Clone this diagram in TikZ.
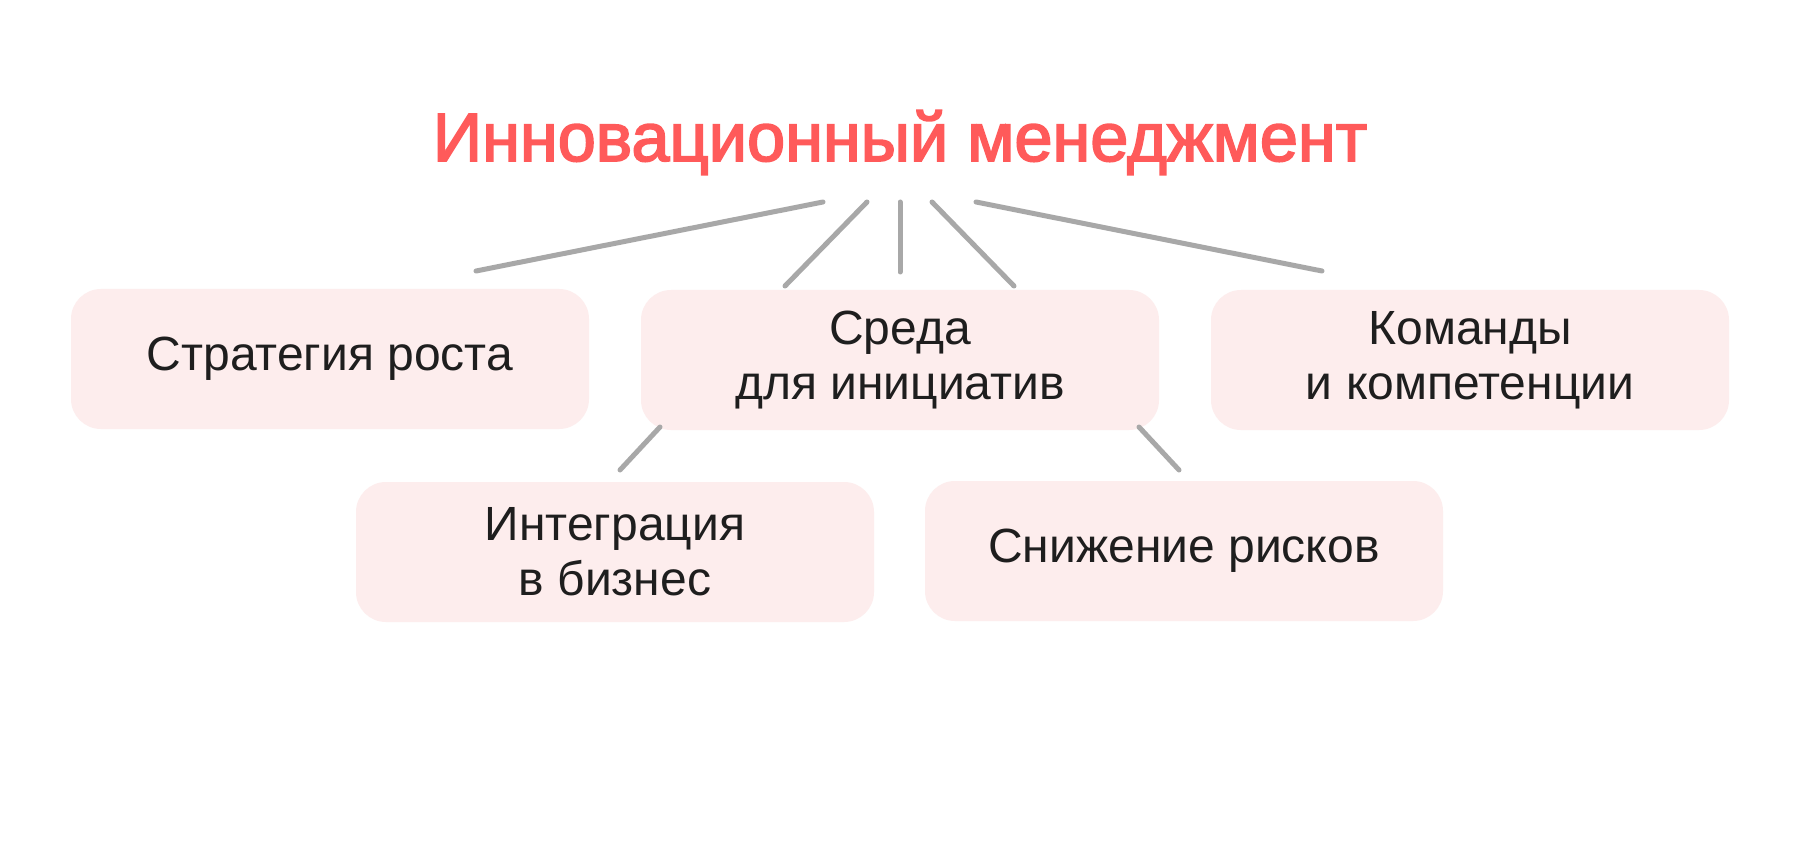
\documentclass[tikz,border=0pt]{standalone}
\usepackage{fontspec}
\setmainfont{Liberation Sans}
\newfontfamily\titlefont[FakeBold=2.5]{Liberation Sans}
\definecolor{titlered}{HTML}{FF5A5A}
\definecolor{boxfill}{HTML}{FDEDED}
\definecolor{linegray}{HTML}{A8A8A8}
\definecolor{textdark}{HTML}{1E1E1E}
\begin{document}
\begin{tikzpicture}[x=1pt,y=-1pt,
  card/.style={fill=boxfill, draw=none, rounded corners=30pt, minimum width=518pt, minimum height=140pt,
    align=center, text=textdark, font=\fontsize{48}{55}\selectfont, inner sep=0pt},
  link/.style={draw=linegray, line width=5pt, line cap=round}]
\useasboundingbox[fill=white] (0,0) rectangle (1800,845);
\node[text=titlered, font=\titlefont\fontsize{68.5}{72}\selectfont, anchor=base] (title) at (900,161) {Инновационный менеджмент};
\node[card] (strat) at (330,359) {Стратегия роста};
\node[card] (sreda) at (900,360) {Среда\\для инициатив};
\node[card] (koman) at (1470,360) {Команды\\и компетенции};
\node[card] (integ) at (615,552) {Интеграция\\в бизнес};
\node[card] (snizh) at (1184,551) {Снижение рисков};
\coordinate (a1) at (823,202); \coordinate (b1) at (476,271);
\coordinate (a2) at (867,202); \coordinate (b2) at (785,286);
\coordinate (a3) at (900,202); \coordinate (b3) at (900,272);
\coordinate (a4) at (932,202); \coordinate (b4) at (1014,286);
\coordinate (a5) at (976,202); \coordinate (b5) at (1322,271);
\coordinate (a6) at (660,427); \coordinate (b6) at (620,470);
\coordinate (a7) at (1139,427); \coordinate (b7) at (1179,470);
\draw[link] (a1) -- (b1);
\draw[link] (a2) -- (b2);
\draw[link] (a3) -- (b3);
\draw[link] (a4) -- (b4);
\draw[link] (a5) -- (b5);
\draw[link] (a6) -- (b6);
\draw[link] (a7) -- (b7);
\end{tikzpicture}
\end{document}
